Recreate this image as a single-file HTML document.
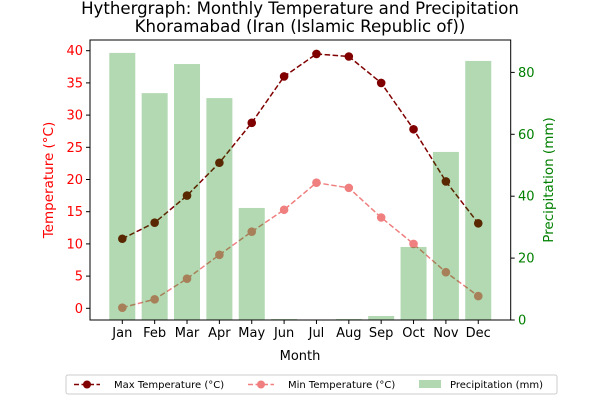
<!DOCTYPE html>
<html><head><meta charset="utf-8"><style>
body{margin:0;background:#fff;}
svg text{font-family:"DejaVu Sans","Liberation Sans",sans-serif;}
</style></head><body>
<svg width="600" height="400" id="c" xmlns="http://www.w3.org/2000/svg">
<text x="300" y="14" font-size="16.6" text-anchor="middle">Hythergraph: Monthly Temperature and Precipitation</text>
<text x="300" y="32" font-size="16.6" text-anchor="middle">Khoramabad (Iran (Islamic Republic of))</text>
<g id="lines"></g><g id="bars"></g><g id="axes"></g>
<rect x="90" y="40" width="420.7" height="280" fill="none" stroke="#000" stroke-width="1"/>
<text x="300" y="360" font-size="13" text-anchor="middle">Month</text>
<text transform="translate(53,180) rotate(-90)" font-size="13.5" fill="red" text-anchor="middle">Temperature (°C)</text>
<text transform="translate(553,180) rotate(-90)" font-size="13.5" fill="green" text-anchor="middle">Precipitation (mm)</text>
<g>
<rect x="66" y="375" width="491" height="19" rx="2" fill="#fff" stroke="#ccc"/>
<g><line x1="74" y1="384.5" x2="100" y2="384.5" stroke="#800000" stroke-width="1.5" stroke-dasharray="5,2.5"/><circle cx="87" cy="384.5" r="4" fill="#800000"/><text x="114" y="388" font-size="10">Max Temperature (°C)</text></g>
<g><line x1="248" y1="384.5" x2="274" y2="384.5" stroke="#f08080" stroke-width="1.5" stroke-dasharray="5,2.5"/><circle cx="261" cy="384.5" r="4" fill="#f08080"/><text x="288" y="388" font-size="10">Min Temperature (°C)</text></g>
<g><rect x="419" y="380" width="22" height="8" fill="#b2d8b2"/><text x="450" y="388" font-size="10">Precipitation (mm)</text></g>
</g>
</svg>
<script>
const months=["Jan","Feb","Mar","Apr","May","Jun","Jul","Aug","Sep","Oct","Nov","Dec"];
const maxTemp=[10.8,13.3,17.5,22.6,28.8,36.0,39.5,39.1,35.0,27.8,19.7,13.2];
const minTemp=[0.1,1.4,4.6,8.3,11.9,15.3,19.5,18.7,14.1,10.0,5.6,1.9];
const precip=[86.3,73.3,82.7,71.7,36.2,0.3,0.1,0.3,1.3,23.6,54.3,83.7];
const tempTicks=[0,5,10,15,20,25,30,35,40];
const precipTicks=[0,20,40,60,80];
const NS="http://www.w3.org/2000/svg";
const X=i=>122.3+i*32.36;
const YT=v=>308.3-v*6.44;
const YP=v=>320-v*3.095;
function mk(t,a,p){const e=document.createElementNS(NS,t);for(const k in a)e.setAttribute(k,a[k]);p.appendChild(e);return e;}
const bars=document.getElementById('bars'),lines=document.getElementById('lines'),axes=document.getElementById('axes');
precip.forEach((v,i)=>{const r=mk('rect',{x:X(i)-13,y:YP(v),width:26,height:320-YP(v),fill:'green','fill-opacity':0.3},bars);

});
function series(arr,col,name){
 const p=mk('polyline',{points:arr.map((v,i)=>X(i)+','+YT(v)).join(' '),fill:'none',stroke:col,'stroke-width':1.5,'stroke-dasharray':'5.5,2.5'},lines);
 
 
 arr.forEach((v,i)=>{const c=mk('circle',{cx:X(i),cy:YT(v),r:4.3,fill:col},lines);
 
 });
}
series(maxTemp,'#800000','max-temp');
series(minTemp,'#f08080','min-temp');
months.forEach((m,i)=>{mk('line',{x1:X(i),x2:X(i),y1:320,y2:324,stroke:'#000'},axes);
const t=mk('text',{x:X(i),y:337,'font-size':13,'text-anchor':'middle'},axes);t.textContent=m;

});
tempTicks.forEach(v=>{mk('line',{x1:86,x2:90,y1:YT(v),y2:YT(v),stroke:'#000'},axes);
const t=mk('text',{x:83,y:YT(v)+4.5,'font-size':13,'text-anchor':'end',fill:'red'},axes);t.textContent=v;

});
precipTicks.forEach(v=>{mk('line',{x1:510.7,x2:514.7,y1:YP(v),y2:YP(v),stroke:'#000'},axes);
const t=mk('text',{x:518,y:YP(v)+4.5,'font-size':13,fill:'green'},axes);t.textContent=v;

});
</script>
</body></html>
